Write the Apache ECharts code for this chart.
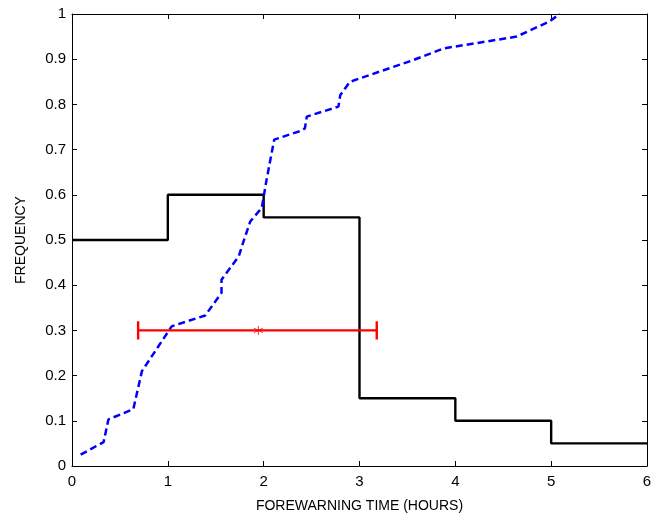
<!DOCTYPE html>
<html>
<head>
<meta charset="utf-8">
<script src="https://cdn.jsdelivr.net/npm/echarts@6/dist/echarts.min.js"></script>
<style>
  html, body { margin: 0; padding: 0; background: #fff; }
  #chart { width: 668px; height: 514px; }
</style>
</head>
<body>
<div id="chart"></div>
<script>
// histogram of forewarning time (step line)
const stepX = [0, 1, 2, 3, 4, 5, 6];
const stepY = [0.5, 0.6, 0.55, 0.15, 0.1, 0.05, 0.05];

// cumulative frequency (blue dashed)
const cdfX = [0.09, 0.33, 0.38, 0.64, 0.73, 1.04, 1.39, 1.56, 1.56, 1.74, 1.79, 1.86, 1.98, 2.03, 2.11, 2.38, 2.43, 2.45, 2.78, 2.80, 2.90, 3.56, 3.88, 4.64, 4.78, 4.97, 5.09];
const cdfY = [0.025, 0.053, 0.103, 0.126, 0.21, 0.309, 0.333, 0.383, 0.412, 0.464, 0.497, 0.541, 0.571, 0.633, 0.722, 0.741, 0.747, 0.773, 0.795, 0.821, 0.85, 0.898, 0.924, 0.95, 0.964, 0.982, 1.0];

// mean +/- spread (red)
const errLow = 0.69;
const errMean = 1.945;
const errHigh = 3.18;
const errLevel = 0.3;
const capHalf = 0.02;

const xTicks = [0, 1, 2, 3, 4, 5, 6];
const yTicks = [0, 0.1, 0.2, 0.3, 0.4, 0.5, 0.6, 0.7, 0.8, 0.9, 1];

const font = 'Liberation Sans, Arial, sans-serif';
const chart = echarts.init(document.getElementById('chart'));

const tickOnly = {
  axisLine: { show: true, onZero: false, lineStyle: { color: '#000', width: 1 } },
  axisTick: { show: true, inside: true, length: 5, lineStyle: { color: '#000' } },
  splitLine: { show: false }
};

const option = {
  animation: false,
  backgroundColor: '#fff',
  grid: { left: 72, right: 21, top: 14, bottom: 48, containLabel: false, outerBoundsMode: 'none' },
  xAxis: [
    Object.assign({
      type: 'value', min: 0, max: 6, interval: 1,
      name: 'FOREWARNING TIME (HOURS)', nameLocation: 'middle', nameGap: 33,
      nameTextStyle: { fontFamily: font, fontSize: 14, color: '#000' },
      axisLabel: { fontFamily: font, fontSize: 15, color: '#000', margin: 8,
        formatter: v => xTicks.includes(v) ? String(v) : '' }
    }, tickOnly),
    Object.assign({
      type: 'value', min: 0, max: 6, interval: 1, position: 'top',
      axisLabel: { show: false }
    }, tickOnly)
  ],
  yAxis: [
    Object.assign({
      type: 'value', min: 0, max: 1, interval: 0.1,
      name: 'FREQUENCY', nameLocation: 'middle', nameGap: 44,
      nameTextStyle: { fontFamily: font, fontSize: 14, color: '#000' },
      axisLabel: { fontFamily: font, fontSize: 15, color: '#000', margin: 6,
        formatter: v => String(Math.round(v * 10) / 10) }
    }, tickOnly),
    Object.assign({
      type: 'value', min: 0, max: 1, interval: 0.1, position: 'right',
      axisLabel: { show: false }
    }, tickOnly)
  ],
  series: [
    {
      type: 'line', step: 'end', symbol: 'none',
      data: stepX.map((x, i) => [x, stepY[i]]),
      lineStyle: { color: '#000', width: 2.4 }, z: 3
    },
    {
      type: 'line', symbol: 'none',
      data: cdfX.map((x, i) => [x, cdfY[i]]),
      lineStyle: { color: '#0000ff', width: 2.5, type: [7, 4] }, z: 4
    },
    {
      type: 'line', symbol: 'none',
      data: [[errLow, errLevel], [errHigh, errLevel]],
      lineStyle: { color: '#ff0000', width: 2.4 }, z: 5
    },
    {
      type: 'line', symbol: 'none',
      data: [[errLow, errLevel - capHalf], [errLow, errLevel + capHalf]],
      lineStyle: { color: '#ff0000', width: 2.4 }, z: 5
    },
    {
      type: 'line', symbol: 'none',
      data: [[errHigh, errLevel - capHalf], [errHigh, errLevel + capHalf]],
      lineStyle: { color: '#ff0000', width: 2.4 }, z: 5
    },
    {
      type: 'scatter',
      data: [[errMean, errLevel]],
      symbol: 'path://M0,-5L0,5M-4.3,-2.5L4.3,2.5M-4.3,2.5L4.3,-2.5',
      symbolSize: 9,
      itemStyle: { color: 'none', borderColor: '#ff0000', borderWidth: 1 },
      z: 6
    }
  ]
};

chart.setOption(option);
</script>
</body>
</html>
